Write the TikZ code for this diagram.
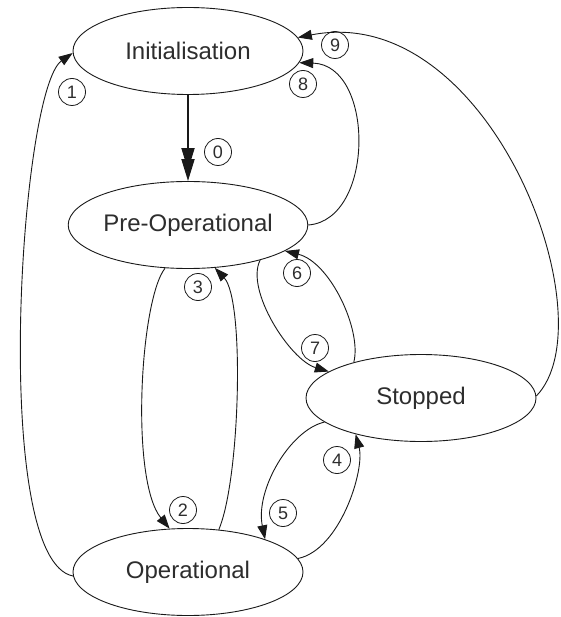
\documentclass[tikz,border=0pt]{standalone}
\usepackage{fontspec}
\setmainfont{Liberation Sans}
\usetikzlibrary{shapes.geometric,arrows.meta}
\definecolor{linecol}{RGB}{25,25,25}
\definecolor{txtcol}{RGB}{45,45,45}
\tikzset{
  state/.style={ellipse, draw=linecol, line width=0.9pt, minimum width=230pt, minimum height=87pt, inner sep=0pt, text=txtcol, font=\fontsize{24}{26}\selectfont},
  lab/.style={circle, draw=linecol, line width=0.8pt, minimum size=27pt, inner sep=0pt, text=txtcol, font=\fontsize{18}{19}\selectfont},
  conn/.style={draw=linecol, line width=0.9pt, -{Triangle[length=14pt,width=10pt]}},
  thickconn/.style={draw=linecol, line width=1.8pt, -{Triangle[length=22pt,width=13pt]}}
}
\begin{document}
\begin{tikzpicture}[x=1pt,y=-1pt]
\useasboundingbox (0,0) rectangle (560,617);
\node[state] (init) at (188,51) {Initialisation};
\node[state] (preop) at (188,225) {Pre-Operational};
\node[state] (stop) at (421,398) {Stopped};
\node[state] (op) at (188,572) {Operational};
% 0
\draw[thickconn] (init.south) -- (preop.north);
\draw[thickconn, shorten >=11pt] (init.south) -- (preop.north);
% 1
\draw[conn] (op.182) .. controls (-10,560) and (20,90) .. (init.181);
% 8
\draw[conn] (preop.east) .. controls (375,220) and (375,65) .. (init.-6);
% 9
\draw[conn] (stop.1) .. controls (610,320) and (490,0) .. (init.7);
% 2
\draw[conn] (preop.-118) .. controls (140,300) and (130,480) .. (op.113);
% 3
\draw[conn] (op.54.5) .. controls (240,480) and (245,300) .. (preop.-58.5);
% 6
\draw[conn] (stop.152) .. controls (362,330) and (330,262) .. (preop.-15.6);
% 7
\draw[conn] (preop.-26.6) .. controls (245,290) and (290,360) .. (stop.164.4);
% 4
\draw[conn] (op.7.6) .. controls (340,550) and (365,470) .. (stop.209.3);
% 5
\draw[conn] (stop.194.9) .. controls (290,430) and (255,490) .. (op.23);
% labels
\node[lab] (l0) at (218,152) {0};
\node[lab] (l1) at (72,92) {1};
\node[lab] (l2) at (183,510) {2};
\node[lab] (l3) at (198,287) {3};
\node[lab] (l4) at (337,460) {4};
\node[lab] (l5) at (283,513) {5};
\node[lab] (l6) at (297,273) {6};
\node[lab] (l7) at (315,348) {7};
\node[lab] (l8) at (303,84) {8};
\node[lab] (l9) at (335,45) {9};
\end{tikzpicture}
\end{document}
